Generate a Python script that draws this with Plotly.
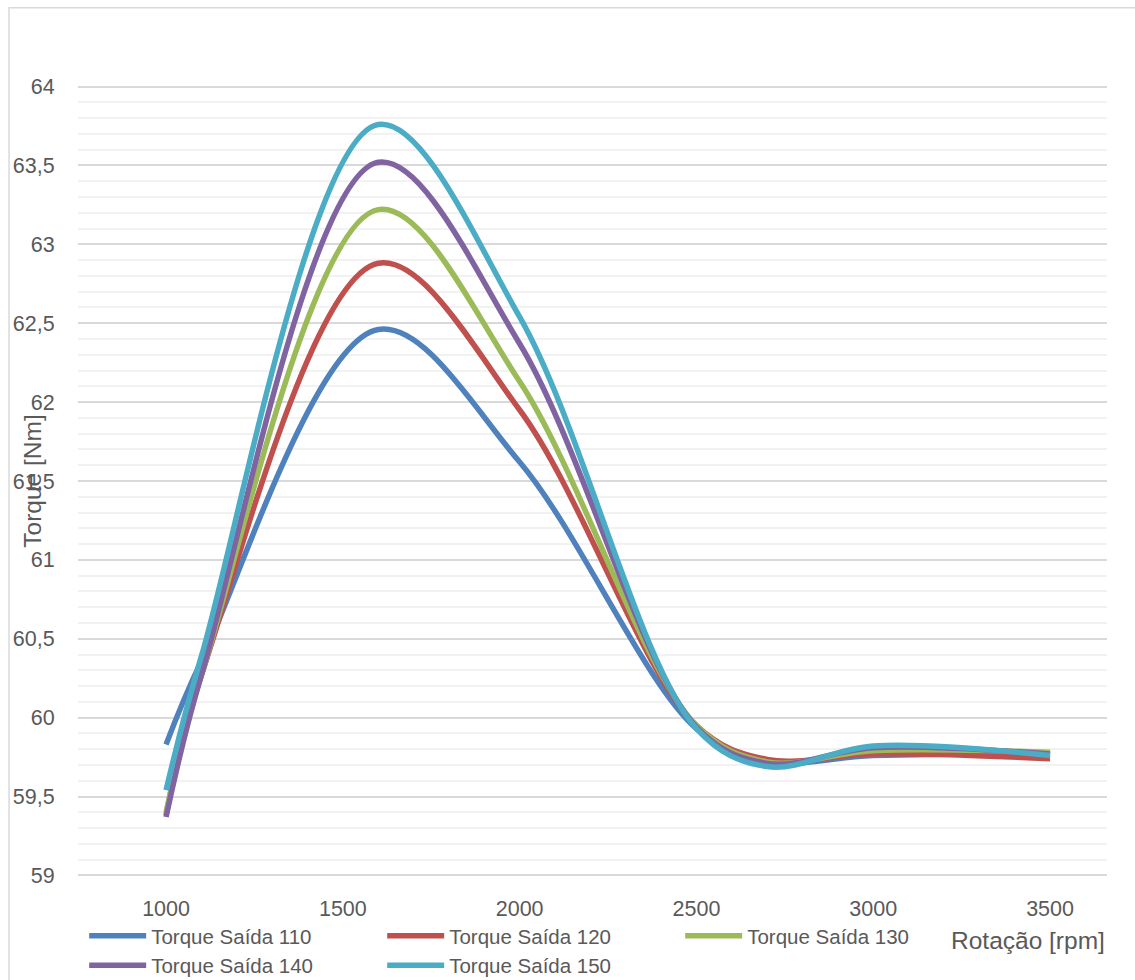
import plotly.graph_objects as go

rpm = [1000, 1100, 1600, 2000, 2500, 2700, 3000, 3500]
torque_110 = [59.83, 60.36, 62.46, 61.62, 59.93, 59.72, 59.76, 59.77]
torque_120 = [59.38, 60.27, 62.88, 61.95, 59.95, 59.735, 59.77, 59.74]
torque_130 = [59.40, 60.27, 63.22, 62.13, 59.95, 59.72, 59.79, 59.78]
torque_140 = [59.37, 60.27, 63.52, 62.37, 59.94, 59.71, 59.81, 59.77]
torque_150 = [59.54, 60.39, 63.76, 62.54, 59.93, 59.69, 59.82, 59.76]

names = ["Torque Saída 110", "Torque Saída 120", "Torque Saída 130",
         "Torque Saída 140", "Torque Saída 150"]
series = [torque_110, torque_120, torque_130, torque_140, torque_150]
colors = ["#4F81BD", "#C0504D", "#9BBB59", "#8064A2", "#4BACC6"]

FONT = "Liberation Sans, Arial, sans-serif"
TXT = "#595959"
FS = 21.5
FL = 20.5
FT = 24.5

fig = go.Figure()
for n, s, c in zip(names, series, colors):
    fig.add_trace(go.Scatter(x=rpm, y=s, name=n, mode="lines",
                             line=dict(color=c, width=5.5, shape="spline", smoothing=1.0)))

fig.update_layout(
    width=1135, height=980,
    margin=dict(l=78, r=28, t=85, b=103, autoexpand=False),
    paper_bgcolor="white", plot_bgcolor="white",
    separators=",.",
    font=dict(family=FONT, size=FS, color=TXT),
    showlegend=True,
    legend=dict(orientation="h", x=0.006, y=-0.049, xanchor="left", yanchor="top",
                entrywidth=226, entrywidthmode="pixels", itemwidth=57,
                font=dict(family=FONT, size=FL, color=TXT),
                tracegroupgap=0, bgcolor="rgba(0,0,0,0)"),
    xaxis=dict(range=[751, 3661], tickvals=[1000, 1500, 2000, 2500, 3000, 3500],
               showgrid=False, zeroline=False, showline=False,
               ticks="outside", ticklen=12, tickcolor="rgba(0,0,0,0)",
               tickfont=dict(family=FONT, size=FS, color=TXT)),
    yaxis=dict(range=[58.99, 64.01], dtick=0.5, tick0=59,
               showgrid=True, gridcolor="#d9d9d9", gridwidth=1.5,
               zeroline=False, showline=False,
               ticks="outside", ticklen=18, tickcolor="rgba(0,0,0,0)",
               tickfont=dict(family=FONT, size=FS, color=TXT),
               minor=dict(dtick=0.1, tick0=59, showgrid=True, gridcolor="#f2f2f2", gridwidth=1.5)),
    annotations=[
        dict(text="Torque [Nm]", xref="paper", yref="paper", x=-0.045, y=0.5,
             textangle=-90, showarrow=False, xanchor="center", yanchor="middle",
             font=dict(family=FONT, size=FT, color=TXT)),
        dict(text="Rotação [rpm]", xref="paper", yref="paper", x=1.0, y=-0.08,
             showarrow=False, xanchor="right", yanchor="middle",
             font=dict(family=FONT, size=FT, color=TXT)),
    ],
    shapes=[
        dict(type="rect", xref="paper", yref="paper", x0=-0.067, y0=-0.2, x1=1.2, y1=1.0976,
             line=dict(color="#d9d9d9", width=1.5), fillcolor="rgba(0,0,0,0)", layer="below"),
    ],
)

fig.write_html("out.html")
